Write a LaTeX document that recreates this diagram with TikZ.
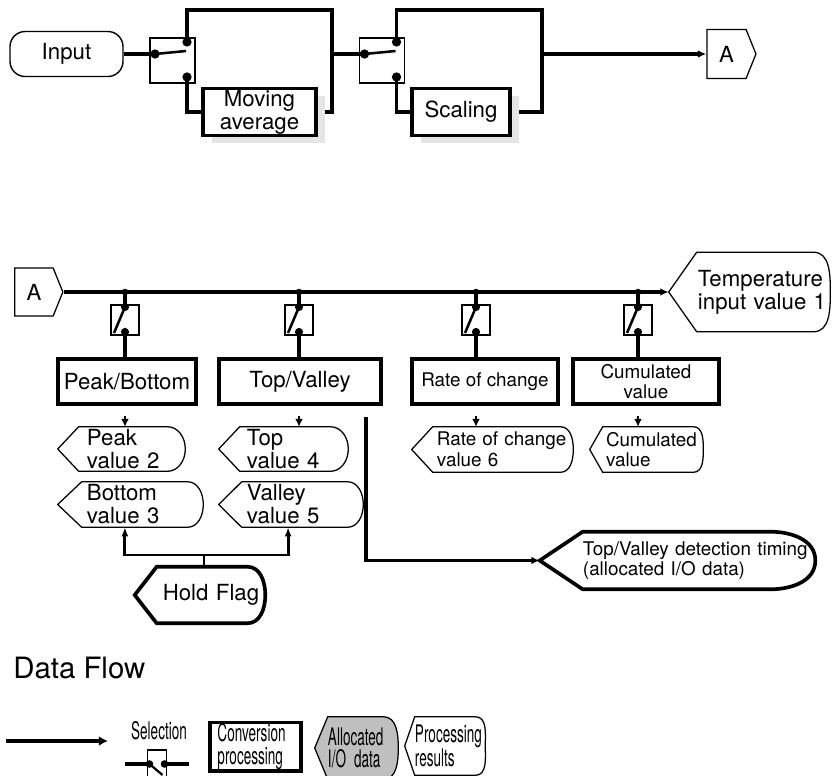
\documentclass[tikz,border=0pt]{standalone}
\usepackage{fontspec}
\setmainfont{TeX Gyre Heros}
\newfontfamily\narrowsans[FakeStretch=0.56]{TeX Gyre Heros}
\usetikzlibrary{arrows.meta, shapes.symbols, backgrounds, shadows}
\hyphenpenalty=10000
\newcommand\fsmain{\fontsize{15.8}{16.4}\selectfont}
\newcommand\fssmall{\fontsize{13.4}{14.6}\selectfont}
\newcommand\fstitle{\fontsize{20.9}{24}\selectfont}
\newcommand\fslegend{\narrowsans\fontsize{17.2}{15.8}\selectfont}
\tikzset{
    flow/.style={line width=2.6pt},
    flowarr/.style={line width=2.6pt, -{Latex[length=6pt, width=5.5pt]}},
    outarr/.style={line width=1.6pt, -{Latex[length=5.5pt, width=5.5pt]}},
    holdarr/.style={line width=2pt, -{Latex[length=6.5pt, width=5pt]}},
    process/.style={rectangle, draw=black, line width=2.6pt, fill=white, inner sep=1pt, align=center, font=\fsmain},
    shadowed/.style={process, drop shadow={shadow xshift=0.225cm, shadow yshift=-0.19cm, fill=black!10, opacity=1}},
    offpage/.style={signal, signal to=east, signal pointer angle=136, draw=black, line width=0.9pt, inner sep=0pt, font=\fsmain},
    result/.style n args={3}{rectangle, inner ysep=0pt, align=left,
        append after command={\pgfextra{
            \begin{pgfonlayer}{background}
                \draw[line width=0.9pt, #3] ([xshift=-#1]\tikzlastnode.west) -- (\tikzlastnode.north west)
                    -- ([xshift=-#2]\tikzlastnode.north east) to[out=0, in=90] (\tikzlastnode.east)
                    to[out=-90, in=0] ([xshift=-#2]\tikzlastnode.south east) -- (\tikzlastnode.south west) -- cycle;
            \end{pgfonlayer}}}},
    hswitch/.pic={
        \draw[line width=0.9pt] (-22.5,-22.5) rectangle (22.5,22.5);
        \draw[line width=1.8pt] (-17.5,-6.5) -- (13.5,-9.5);
        \fill (-17.5,-6.5) circle (3.3pt) (14.5,-18.5) circle (3.3pt) (14.5,16.5) circle (3.3pt);
        \coordinate (-in) at (-17.5,-6.5);
        \coordinate (-a) at (14.5,-18.5);
        \coordinate (-b) at (14.5,16.5);
    },
    vswitch/.pic={
        \draw[line width=0.9pt] (-14,-15) rectangle (14,15);
        \draw[line width=1.8pt] (0,-13) -- (-11,13);
        \fill (0,-13) circle (2.9pt) (0,12) circle (2.9pt);
        \coordinate (-a) at (0,-13);
        \coordinate (-b) at (0,12);
    },
    selswitch/.pic={
        \draw[line width=0.9pt] (-9.5,-14) rectangle (9.5,26);
        \draw[line width=2.2pt] (-32,0) -- (-7.5,0) (7.5,0) -- (32,0);
        \draw[line width=1.6pt] (-7.5,0) -- (5.5,11);
        \fill (-7.5,0) circle (2.7pt) (7.5,0) circle (2.7pt);
    }
}

\begin{document}
\begin{tikzpicture}[x=0.025cm, y=-0.025cm]
    \useasboundingbox (0,0) rectangle (832,775);

    % Input chain
    \node (inp) [draw, rounded corners=0.38cm, line width=1pt, minimum width=2.825cm, minimum height=1.125cm, font=\fsmain] at (66.5,54) {Input};
    \pic (s1) at (172.5,60.5) {hswitch};
    \node (ma) [shadowed, minimum width=2.825cm, minimum height=1.175cm] at (259.5,112) {Moving\\average};
    \coordinate (r1) at (332,10);
    \pic (s2) at (382,60.5) {hswitch};
    \node (sc) [shadowed, minimum width=2.45cm, minimum height=1.175cm] at (461,112) {Scaling};
    \coordinate (r2) at (542,10);
    \node (a1) [offpage, minimum width=1.225cm, minimum height=1.225cm] at (726.5,54) {A};

    \begin{scope}[on background layer]
        \draw[flow] (inp) -- (s1-in);
        \draw[flow] (s1-a) |- (r1) |- (ma.east);
        \draw[flow] (s1-b) |- (ma.west);
        \draw[flow] (r1 |- s2-in) -- (s2-in);
        \draw[flow] (s2-a) |- (r2) |- (sc.east);
        \draw[flow] (s2-b) |- (sc.west);
        \draw[flowarr] (r2 |- a1.west) -- (a1.west);
    \end{scope}

    % Temperature branch
    \node (a2) [offpage, minimum width=1.2cm, minimum height=1.2cm] at (34,292) {A};
    \node (temp) [result={0.7cm}{0.425cm}{}, font=\fsmain, minimum width=3.325cm, minimum height=1.975cm, inner xsep=0.025cm, text width=3.275cm] at (763.5,292) {Temperature\\input value 1};
    \draw[flowarr] (a2.east) -- ([xshift=-0.7cm]temp.west);

    \node (pb) [process, minimum width=3.45cm, minimum height=1.125cm] at (127,381.5) {Peak/Bottom};
    \node (tv) [process, minimum width=4.05cm, minimum height=1.125cm] at (300,381.5) {Top/Valley};
    \node (rc) [process, minimum width=3.65cm, minimum height=1.125cm, font=\fssmall] at (485,381.5) {Rate of change};
    \node (cu) [process, minimum width=3.65cm, minimum height=1.125cm, font=\fssmall] at (646,381.5) {Cumulated\\value};

    \pic (v1) at (125,320) {vswitch};
    \pic (v2) at (299,320) {vswitch};
    \pic (v3) at (476,320) {vswitch};
    \pic (v4) at (638,320) {vswitch};

    \fill (v1-a |- a2.east) circle (2.3pt);
    \fill (v2-a |- a2.east) circle (2.3pt);
    \fill (v3-a |- a2.east) circle (2.3pt);
    \fill (v4-a |- a2.east) circle (2.3pt);
    \draw[flow] (v1-a |- a2.east) -- (v1-a);
    \draw[flow] (v2-a |- a2.east) -- (v2-a);
    \draw[flow] (v3-a |- a2.east) -- (v3-a);
    \draw[flow] (v4-a |- a2.east) -- (v4-a);
    \draw[flow] (v1-b) -- (v1-b |- pb.north);
    \draw[flow] (v2-b) -- (v2-b |- tv.north);
    \draw[flow] (v3-b) -- (v3-b |- rc.north);
    \draw[flow] (v4-b) -- (v4-b |- cu.north);

    % Results
    \node (pk2) [result={0.525cm}{0.45cm}{}, font=\fsmain, minimum width=2.65cm, minimum height=1.1cm, inner xsep=0.2cm, text width=2.25cm] at (132,449) {Peak\\value 2};
    \node (bt3) [result={0.6cm}{0.4cm}{}, font=\fsmain, minimum width=3.025cm, minimum height=1.125cm, inner xsep=0.125cm, text width=2.775cm] at (142.5,504.5) {Bottom\\value 3};
    \node (tp4) [result={0.525cm}{0.45cm}{}, font=\fsmain, minimum width=2.7cm, minimum height=1.1cm, inner xsep=0.175cm, text width=2.35cm] at (294,449) {Top\\value 4};
    \node (vl5) [result={0.575cm}{0.4cm}{}, font=\fsmain, minimum width=3.025cm, minimum height=1.125cm, inner xsep=0.125cm, text width=2.775cm] at (302.5,504.5) {Valley\\value 5};
    \node (rc6) [result={0.525cm}{0.325cm}{}, font=\fssmall, minimum width=3.5cm, minimum height=1.125cm, inner xsep=0.1cm, text width=3.3cm] at (503,449.5) {Rate of change\\value 6};
    \node (cv) [result={0.325cm}{0.25cm}{}, font=\fssmall, minimum width=2.5cm, minimum height=1.125cm, inner xsep=0.075cm, text width=2.35cm] at (653,449.5) {Cumulated\\value};

    \draw[outarr] (v1-b |- pb.south) ++(0,10) -- (v1-b |- pk2.north);
    \draw[outarr] (v2-b |- tv.south) ++(0,10) -- (v2-b |- tp4.north);
    \draw[outarr] (v3-b |- rc.south) ++(0,10) -- (v3-b |- rc6.north);
    \draw[outarr] (v4-b |- cu.south) ++(0,10) -- (v4-b |- cv.north);

    % Hold flag
    \node (hold) [result={0.55cm}{0.45cm}{line width=2.6pt}, align=center, font=\fsmain, minimum width=2.7cm, minimum height=1.4cm, inner xsep=0.05cm, text width=2.6cm] at (211,595) {Hold Flag};
    \coordinate (hf) at (204,555);
    \draw[line width=0.9pt] (hold.north -| hf) -- (hf);
    \draw[holdarr] (hf) -| ([xshift=-0.44cm]bt3.south);
    \draw[holdarr] (hf) -| ([xshift=-0.36cm]vl5.south);

    % Detection timing
    \node (tvd) [result={1.075cm}{1.125cm}{line width=2.6pt}, font=\fssmall, minimum width=5.8cm, minimum height=1.425cm, inner xsep=0pt, text width=5.8cm] at (699,560.5) {Top/Valley detection timing\\(allocated I/O data)};
    \draw[flowarr] ([shift={(-17,11)}]tv.south east) |- ([xshift=-1.075cm]tvd.west);

    % Legend
    \node (title) [anchor=base west, font=\fstitle, inner sep=0pt] at (13,678) {Data Flow};
    \coordinate (lg0) at (6,741);
    \coordinate (lg1) at (108,741);
    \draw[flow, -{Latex[length=6.5pt, width=7pt]}] (lg0) -- (lg1);
    \node (seltext) [font=\fslegend] at (159,731) {Selection};
    \pic (sel) at (157,764) {selswitch};
    \node (cp) [process, font=\fslegend, align=left, minimum width=2.275cm, minimum height=1.175cm, inner xsep=0.19cm, text width=1.9cm] at (255.5,746.5) {Conversion\\processing};
    \node (alloc) [result={0.325cm}{0.375cm}{fill=black!25}, font=\fslegend, minimum width=1.75cm, minimum height=1.55cm, inner xsep=0pt, text width=1.75cm] at (363,748) {Allocated\\I/O data};
    \node (prc) [result={0.25cm}{0.25cm}{}, font=\fslegend, minimum width=1.75cm, minimum height=1.45cm, inner xsep=0pt, text width=1.75cm] at (450,746) {Processing\\results};
\end{tikzpicture}
\end{document}
